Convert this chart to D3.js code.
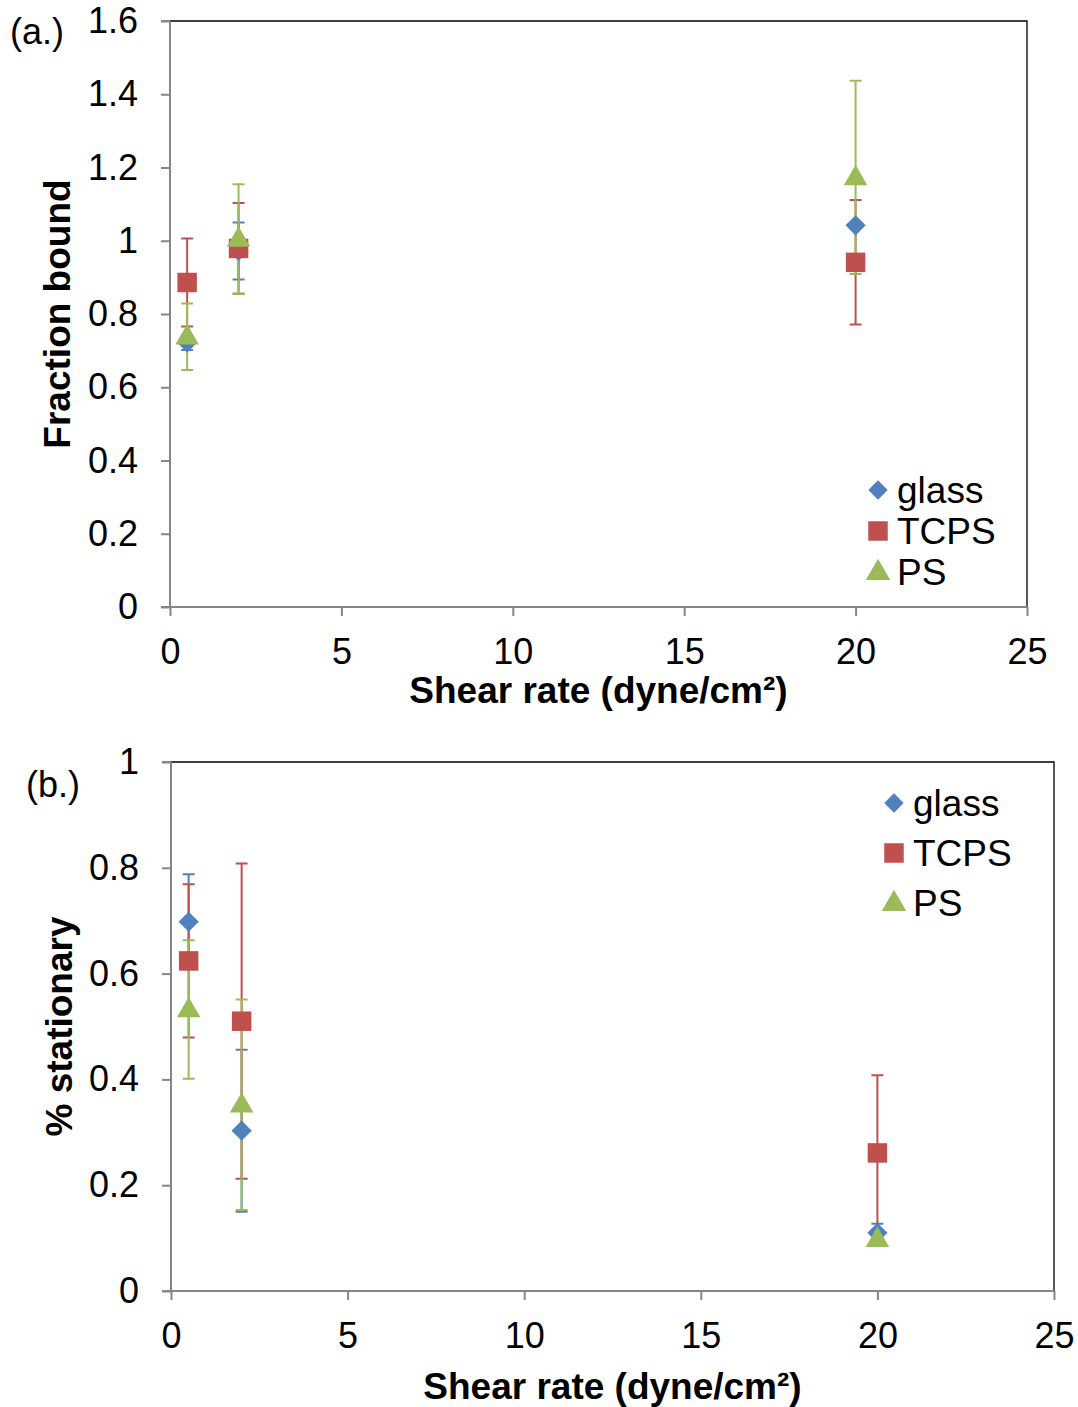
<!DOCTYPE html>
<html>
<head>
<meta charset="utf-8">
<script src="https://cdn.jsdelivr.net/npm/d3@7"></script>
<style>
  html, body { margin: 0; padding: 0; background: #fff; }
  svg { display: block; font-family: "Liberation Sans", Arial, sans-serif; }
</style>
</head>
<body>
<svg id="chart" width="1078" height="1407"></svg>
<script>
// ---- data ----
const seriesNames = ["glass", "TCPS", "PS"];
const seriesColors = ["#4F81BD", "#C0504D", "#9BBB59"];
const shearRates = [0.5, 2, 20];

// Panel (a) Fraction bound
const boundGlass = [0.722, 0.972, 1.042];
const boundGlassErr = [0.02, 0.078, 0.008];
const boundTCPS = [0.886, 0.979, 0.941];
const boundTCPSErr = [0.12, 0.124, 0.17];
const boundPS = [0.738, 1.005, 1.173];
const boundPSErr = [0.091, 0.149, 0.264];
const yTicksA = [0, 0.2, 0.4, 0.6, 0.8, 1, 1.2, 1.4, 1.6];

// Panel (b) % stationary
const statGlass = [0.698, 0.303, 0.11];
const statGlassErr = [0.09, 0.153, 0.017];
const statTCPS = [0.624, 0.510, 0.261];
const statTCPSErr = [0.145, 0.298, 0.147];
const statPS = [0.532, 0.352, 0.098];
const statPSErr = [0.131, 0.199, 0.01];
const yTicksB = [0, 0.2, 0.4, 0.6, 0.8, 1];

const xTicks = [0, 5, 10, 15, 20, 25];

const svg = d3.select("#chart");

function drawPanel(cfg) {
  const g = svg.append("g");
  const x = d3.scaleLinear().domain([0, 25]).range([cfg.left, cfg.right]);
  const y = d3.scaleLinear().domain(cfg.yDomain).range([cfg.bottom, cfg.top]);

  // frame top/right
  g.append("path")
    .attr("d", `M${cfg.left},${cfg.top}H${cfg.right}V${cfg.bottom}`)
    .attr("fill", "none").attr("stroke", "#000").attr("stroke-width", 1.3);

  // axes
  const axisColor = "#868686";
  const yAxis = d3.axisLeft(y).tickValues(cfg.yTicks).tickSize(9).tickPadding(23)
    .tickFormat(d => String(+d.toFixed(1)));
  const ya = g.append("g").attr("transform", `translate(${cfg.left},0)`).call(yAxis);
  const xAxis = d3.axisBottom(x).tickValues(xTicks).tickSize(9).tickPadding(22);
  const xa = g.append("g").attr("transform", `translate(0,${cfg.bottom})`).call(xAxis);
  [ya, xa].forEach(a => {
    a.select(".domain").attr("stroke", axisColor).attr("stroke-width", 2)
      .attr("d", a === ya ? `M0,${cfg.bottom}V${cfg.top}M-9,${cfg.top}H0` : `M${cfg.left - 9},0H${cfg.right}`);
    a.selectAll(".tick line").attr("stroke", axisColor).attr("stroke-width", 2);
    a.selectAll(".tick text").attr("fill", "#000").attr("font-size", 36)
      .attr("font-family", "Liberation Sans, Arial, sans-serif");
  });
  xa.selectAll(".tick text").attr("dy", "0.71em");

  // error bars
  const cap = 6;
  cfg.series.forEach((s, si) => {
    const eg = g.append("g").attr("stroke", seriesColors[si]).attr("stroke-width", 2).attr("fill", "none");
    shearRates.forEach((xv, i) => {
      const cx = x(xv), y0 = y(s.v[i] - s.e[i]), y1 = y(s.v[i] + s.e[i]);
      eg.append("path").attr("d", `M${cx},${y0}V${y1}M${cx - cap},${y0}H${cx + cap}M${cx - cap},${y1}H${cx + cap}`);
    });
  });

  // markers
  const shapes = [d3.symbolDiamond2, d3.symbolSquare, d3.symbolTriangle];
  const sizes = [260, 380, 240];
  cfg.series.forEach((s, si) => {
    const sym = d3.symbol().type(shapes[si]).size(sizes[si]);
    g.append("g").selectAll("path").data(shearRates).join("path")
      .attr("d", sym)
      .attr("transform", (d, i) => `translate(${x(d)},${y(s.v[i]) + (si === 2 ? 1 : 0)})`)
      .attr("fill", seriesColors[si]);
  });

  // legend
  const lg = g.append("g");
  seriesNames.forEach((n, i) => {
    const ly = cfg.legendY + i * cfg.legendGap;
    const sym = d3.symbol().type(shapes[i]).size([240, 380, 260][i]);
    lg.append("path").attr("d", sym).attr("transform", `translate(${cfg.legendX},${ly + (i === 2 ? 1 : 0)})`)
      .attr("fill", seriesColors[i]);
    lg.append("text").attr("x", cfg.legendX + 19).attr("y", ly).attr("dy", "0.36em")
      .attr("font-size", 37).text(n);
  });

  // axis titles
  g.append("text").attr("x", (cfg.left + cfg.right) / 2).attr("y", cfg.xTitleY)
    .attr("text-anchor", "middle").attr("font-size", 37).attr("font-weight", "bold")
    .text("Shear rate (dyne/cm²)");
  g.append("text")
    .attr("transform", `translate(${cfg.yTitleX},${(cfg.top + cfg.bottom) / 2}) rotate(-90)`)
    .attr("text-anchor", "middle").attr("font-size", 37).attr("font-weight", "bold")
    .text(cfg.yTitle);
  g.append("text").attr("x", cfg.tagX).attr("y", cfg.tagY).attr("font-size", 36).text(cfg.tag);
}

drawPanel({
  left: 170, right: 1027, top: 21, bottom: 607,
  yDomain: [0, 1.6], yTicks: yTicksA,
  series: [{ v: boundGlass, e: boundGlassErr }, { v: boundTCPS, e: boundTCPSErr }, { v: boundPS, e: boundPSErr }],
  legendX: 878, legendY: 490, legendGap: 41,
  xTitleY: 703, yTitleX: 70, yTitle: "Fraction bound",
  tag: "(a.)", tagX: 10, tagY: 44
});

drawPanel({
  left: 171, right: 1054, top: 762, bottom: 1291,
  yDomain: [0, 1], yTicks: yTicksB,
  series: [{ v: statGlass, e: statGlassErr }, { v: statTCPS, e: statTCPSErr }, { v: statPS, e: statPSErr }],
  legendX: 894, legendY: 803, legendGap: 50,
  xTitleY: 1399, yTitleX: 72, yTitle: "% stationary",
  tag: "(b.)", tagX: 26, tagY: 797
});
</script>
</body>
</html>
